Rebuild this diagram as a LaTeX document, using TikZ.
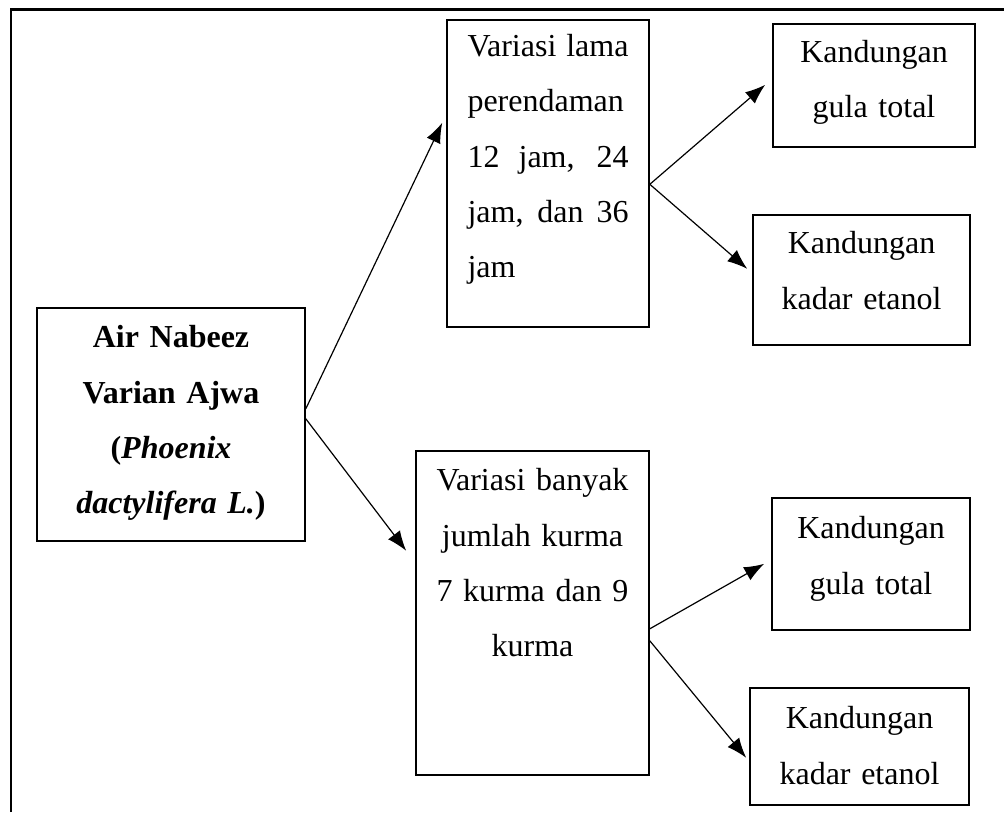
\documentclass[tikz,border=0pt]{standalone}
\usepackage{fontspec}
\setmainfont{Liberation Serif}
\usepackage{tikz}
\usetikzlibrary{arrows.meta}
\usetikzlibrary{calc}
\newlength{\lamawidth}
\setlength{\lamawidth}{60.375pt}
\newcommand{\fullline}[1]{\leavevmode\hbox to \lamawidth{\spaceskip=0.25em plus 1fil\relax #1}}
\tikzset{
  box_node/.style = {rectangle, draw=black, line width=0.6pt, inner sep=0pt,
    anchor=north, font=\fontsize{12pt}{20.7pt}\selectfont},% kotak umum
  mid_node/.style = {box_node, align=center},% teks di tengah
  flow_arrow/.style = {-{Latex[length=7.5pt,width=5.6pt]}, line width=0.45pt},% panah
  frame_line/.style = {line width=0.9pt}% garis tepi
}
\begin{document}
\begin{tikzpicture}[x=0.375pt, y=-0.375pt]
        \useasboundingbox (0,0) rectangle (1004,812);
        \draw[frame_line] (11,812) -- (11,9.5) -- (1004,9.5);
        % bahan
        \node [mid_node, text width=100.5pt, text height=15pt, text depth=72.375pt]
          (nabeez) at (171,307)
          {\bfseries Air Nabeez\\ \bfseries Varian Ajwa\\
           \bfseries (\textit{Phoenix}\\ \bfseries\textit{dactylifera L.})};
        % variasi
        \node [box_node, align=left, text width=\lamawidth, inner xsep=7.6875pt,
          text height=13.875pt, text depth=101.25pt]
          (lama) at (548,19)
          {\fullline{Variasi lama}\\ perendaman\\ \fullline{12 jam, 24}\\
           \fullline{jam, dan 36}\\ jam};
        \node [mid_node, text width=87.375pt, text height=15pt, text depth=106.5pt]
          (banyak) at (532.5,450)
          {Variasi banyak\\ jumlah kurma\\ 7 kurma dan 9\\ kurma};
        % hasil
        \node [mid_node, text width=75.75pt, text height=14.625pt, text depth=31.5pt]
          (gula_a) at (874,23) {Kandungan\\ gula total};
        \node [mid_node, text width=81.375pt, text height=14.625pt, text depth=34.125pt]
          (etanol_a) at (861.5,214) {Kandungan\\ kadar etanol};
        \node [mid_node, text width=74.25pt, text height=15.375pt, text depth=34.125pt]
          (gula_b) at (871,497) {Kandungan\\ gula total};
        \node [mid_node, text width=82.125pt, text height=15.375pt, text depth=28.5pt]
          (etanol_b) at (859.5,687) {Kandungan\\ kadar etanol};
        % panah
        \draw [flow_arrow] ($(nabeez.east)+(0,-15.5)$) -- ($(lama.west)+(-4,-50.5)$);
        \draw [flow_arrow] ($(nabeez.east)+(0,-5.5)$) -- ($(banyak.west)+(-9,-62)$);
        \draw [flow_arrow] ($(lama.east)+(0,11)$) -- ($(gula_a.west)+(-7,-0.5)$);
        \draw [flow_arrow] ($(lama.east)+(0,11)$) -- ($(etanol_a.west)+(-5,-11)$);
        \draw [flow_arrow] ($(banyak.east)+(0,16)$) -- ($(gula_b.west)+(-7,0)$);
        \draw [flow_arrow] ($(banyak.east)+(0,28)$) -- ($(etanol_b.west)+(-3,11.5)$);
\end{tikzpicture}
\end{document}
